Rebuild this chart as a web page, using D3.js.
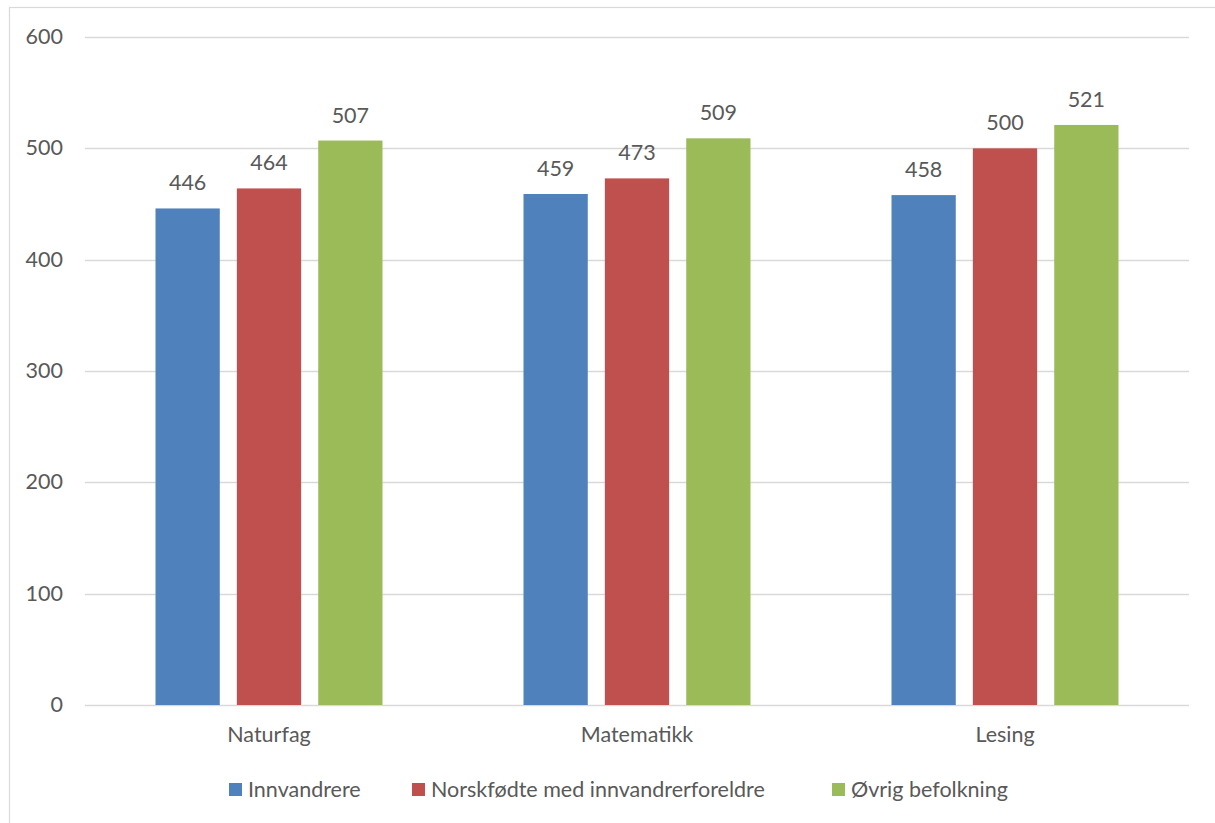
<!DOCTYPE html>
<html>
<head>
<meta charset="utf-8">
<script src="https://cdn.jsdelivr.net/npm/d3@7"></script>
<style>
  html, body { margin: 0; padding: 0; background: #fff; }
  svg { display: block; }
  text { font-family: Lato, "Open Sans", sans-serif; fill: #595959; }
</style>
</head>
<body>
<svg id="chart" width="1215" height="823"></svg>
<script>
const categories = ["Naturfag", "Matematikk", "Lesing"];
const seriesNames = ["Innvandrere", "Norskfødte med innvandrerforeldre", "Øvrig befolkning"];
const innvandrere = [446, 459, 458];
const norskfodte = [464, 473, 500];
const ovrig = [507, 509, 521];
const yTicks = [0, 100, 200, 300, 400, 500, 600];
const colors = ["#4F81BD", "#C0504D", "#9BBB59"];

const seriesValues = [innvandrere, norskfodte, ovrig];
const data = categories.map((c, i) => ({
  cat: c,
  vals: seriesNames.map((s, j) => ({ series: s, idx: j, value: seriesValues[j][i] }))
}));

const FS = "21.5px";
const svg = d3.select("#chart");
const W = 1215, H = 823;

// outer border
svg.append("rect").attr("x", 9.5).attr("y", 7.5).attr("width", W + 10).attr("height", H + 10)
  .attr("fill", "none").attr("stroke", "#d9d9d9").attr("stroke-width", 1.2);

const plot = { left: 85, right: 1189, top: 37, bottom: 705 };

const x0 = d3.scaleBand().domain(categories).range([plot.left, plot.right]).paddingInner(0).paddingOuter(0);
const x1 = d3.scaleBand().domain(seriesNames).range([70.5, x0.bandwidth() - 70.5]).paddingInner(0.21).paddingOuter(0);
const y = d3.scaleLinear().domain([0, 600]).range([plot.bottom, plot.top]);

// gridlines
svg.append("g").selectAll("line").data(yTicks).join("line")
  .attr("x1", plot.left).attr("x2", plot.right)
  .attr("y1", d => Math.round(y(d)) + 0.5).attr("y2", d => Math.round(y(d)) + 0.5)
  .attr("stroke", "#d9d9d9").attr("stroke-width", 1.5);

// y axis labels
const yAxis = d3.axisLeft(y).tickValues(yTicks).tickSize(0).tickPadding(0);
const gy = svg.append("g").attr("transform", `translate(${plot.left - 22},0)`).call(yAxis);
gy.select(".domain").remove();
gy.selectAll("text").style("font-size", FS).attr("fill", "#595959")
  .style("font-family", "Lato, 'Open Sans', sans-serif").attr("dy", "0.3em");

// bars
const groups = svg.append("g").selectAll("g").data(data).join("g")
  .attr("transform", d => `translate(${x0(d.cat)},0)`);

groups.selectAll("rect").data(d => d.vals).join("rect")
  .attr("x", d => x1(d.series))
  .attr("width", x1.bandwidth())
  .attr("y", d => y(d.value))
  .attr("height", d => y(0) - y(d.value))
  .attr("fill", d => colors[d.idx]);

groups.selectAll("text.val").data(d => d.vals).join("text")
  .attr("class", "val")
  .attr("x", d => x1(d.series) + x1.bandwidth() / 2)
  .attr("y", d => y(d.value) - 18)
  .attr("text-anchor", "middle")
  .style("font-size", FS)
  .text(d => d.value);

// x axis labels
const xAxis = d3.axisBottom(x0).tickSize(0).tickPadding(0);
const gx = svg.append("g").attr("transform", `translate(0,${plot.bottom + 22})`).call(xAxis);
gx.select(".domain").remove();
gx.selectAll("text").style("font-size", FS).attr("fill", "#595959")
  .style("font-family", "Lato, 'Open Sans', sans-serif").attr("dy", "0.71em");

// legend
const legendItems = [
  { name: seriesNames[0], sx: 229, tx: 248 },
  { name: seriesNames[1], sx: 412, tx: 431 },
  { name: seriesNames[2], sx: 832, tx: 851 }
];
const lg = svg.append("g");
lg.selectAll("rect").data(legendItems).join("rect")
  .attr("x", d => d.sx).attr("y", 783).attr("width", 13).attr("height", 13)
  .attr("fill", (d, i) => colors[i]);
lg.selectAll("text").data(legendItems).join("text")
  .attr("x", d => d.tx).attr("y", 797)
  .style("font-size", FS)
  .text(d => d.name);
</script>
</body>
</html>
